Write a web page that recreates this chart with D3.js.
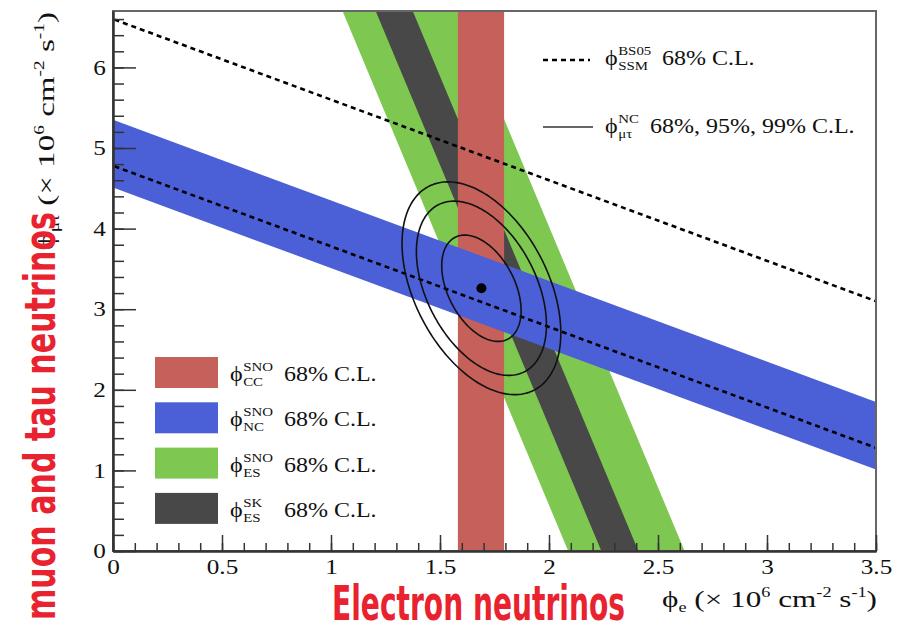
<!DOCTYPE html>
<html>
<head>
<meta charset="utf-8">
<script src="https://cdn.jsdelivr.net/npm/d3@7"></script>
<style>
  body { margin: 0; background: #fff; }
  svg { display: block; }
</style>
</head>
<body>
<div id="chart"></div>
<script>
var width = 916, height = 623,
    margin = {top: 11, right: 40, bottom: 72, left: 113};

// bands, all in units of 10^6 cm^-2 s^-1
var ccBand = [1.582, 1.794];        // phi_e range (SNO CC)
var ncBand = [4.51, 5.35];          // phi_e + phi_mutau (SNO NC)
var snoEsBand = [2.088, 2.622];     // phi_e + k phi_mutau (SNO ES)
var skEsBand = [2.240, 2.410];      // phi_e + k phi_mutau (SK ES)
var esWeight = 0.1545;
var ssmLines = [4.78, 6.60];        // BS05 SSM total, 68% C.L.

// best fit and contour parameters
var bestFit = [1.69, 3.26];
var contourSigma = [0.12, 0.435];
var contourRho = -0.42;
var contourChi2 = [2.30, 6.18, 9.21];

var xMajor = [0, 0.5, 1, 1.5, 2, 2.5, 3, 3.5];
var xLabels = ["0", "0.5", "1", "1.5", "2", "2.5", "3", "3.5"];
var yMajor = [0, 1, 2, 3, 4, 5, 6];
var xMinor = d3.range(0, 36).map(function(i) { return i / 10; });
var yMinor = d3.range(0, 34).map(function(i) { return i / 5; });

var legendNames = ["CC", "NC", "ES", "ES"];
var legendExp = ["SNO", "SNO", "SNO", "SK"];
var legendColors = ["#c5605a", "#4b5fd7", "#7ec852", "#484848"];

var serif = "'Liberation Serif', 'Times New Roman', serif";
var stretch = 1.2;

var w = width - margin.left - margin.right,
    h = height - margin.top - margin.bottom;

var x = d3.scaleLinear().domain([0, 3.5]).range([0, w]);
var y = d3.scaleLinear().domain([0, 6.7]).range([h, 0]);

var svg = d3.select("#chart").append("svg")
    .attr("width", width)
    .attr("height", height);

svg.append("defs").append("clipPath").attr("id", "plotclip")
  .append("rect").attr("width", w).attr("height", h);

var g = svg.append("g")
    .attr("transform", "translate(" + margin.left + "," + margin.top + ")");

var plot = g.append("g").attr("clip-path", "url(#plotclip)");

var poly = d3.line().x(function(d) { return x(d[0]); }).y(function(d) { return y(d[1]); });

// ES bands: phi_e = c - k * phi_mutau
function esPoly(b) {
  var y0 = -1, y1 = 8;
  return [[b[0] - esWeight * y0, y0], [b[1] - esWeight * y0, y0],
          [b[1] - esWeight * y1, y1], [b[0] - esWeight * y1, y1]];
}
plot.append("path").attr("d", poly(esPoly(snoEsBand)) + "Z").attr("fill", legendColors[2]);
plot.append("path").attr("d", poly(esPoly(skEsBand)) + "Z").attr("fill", legendColors[3]);

plot.append("rect")
  .attr("x", x(ccBand[0])).attr("width", x(ccBand[1]) - x(ccBand[0]))
  .attr("y", -5).attr("height", h + 10)
  .attr("fill", legendColors[0]);

// NC: phi_mutau = c - phi_e
var x0 = -1, x1 = 5;
plot.append("path")
  .attr("d", poly([[x0, ncBand[0] - x0], [x0, ncBand[1] - x0], [x1, ncBand[1] - x1], [x1, ncBand[0] - x1]]) + "Z")
  .attr("fill", legendColors[1]);

plot.selectAll(".ssm")
  .data(ssmLines)
  .enter().append("line")
  .attr("x1", x(x0)).attr("y1", function(d) { return y(d - x0); })
  .attr("x2", x(x1)).attr("y2", function(d) { return y(d - x1); })
  .attr("stroke", "#000")
  .attr("stroke-width", 2.6)
  .attr("stroke-dasharray", "5,4");

// confidence contours
var ell = d3.line().curve(d3.curveLinearClosed)
    .x(function(d) { return x(d[0]); }).y(function(d) { return y(d[1]); });
var ts = d3.range(0, 2 * Math.PI, Math.PI / 90);
plot.selectAll(".cont")
  .data(contourChi2)
  .enter().append("path")
  .attr("d", function(c) {
    var r = Math.sqrt(c), s = Math.sqrt(1 - contourRho * contourRho);
    return ell(ts.map(function(t) {
      var u = Math.cos(t), v = Math.sin(t);
      return [bestFit[0] + r * contourSigma[0] * u,
              bestFit[1] + r * contourSigma[1] * (contourRho * u + s * v)];
    }));
  })
  .attr("fill", "none")
  .attr("stroke", "#111")
  .attr("stroke-width", 1.6);

plot.append("circle")
  .attr("cx", x(bestFit[0])).attr("cy", y(bestFit[1]))
  .attr("r", 5).attr("fill", "#000");

// frame
g.append("rect").attr("width", w).attr("height", h)
  .attr("fill", "none").attr("stroke", "#666").attr("stroke-width", 2);

// axes (ticks inward, ROOT style)
function styleAxis(sel) {
  sel.select(".domain").attr("stroke", "#333").attr("stroke-width", 2);
  sel.selectAll(".tick line").attr("stroke", "#333").attr("stroke-width", 1.5);
  sel.selectAll("text").attr("font-family", serif).attr("font-size", 21).attr("fill", "#111");
}

g.append("g").attr("transform", "translate(0," + h + ")")
  .call(d3.axisBottom(x).tickValues(xMinor).tickSizeInner(-8).tickSizeOuter(0).tickFormat(""))
  .call(styleAxis);
var xa = g.append("g").attr("transform", "translate(0," + h + ")")
  .call(d3.axisBottom(x).tickValues(xMajor).tickSizeInner(-16).tickSizeOuter(0)
        .tickPadding(8).tickFormat(function(d, i) { return xLabels[i]; }))
  .call(styleAxis);
xa.selectAll("text").attr("transform", "scale(" + stretch + ",1)");

g.append("g")
  .call(d3.axisLeft(y).tickValues(yMinor).tickSizeInner(-11).tickSizeOuter(0).tickFormat(""))
  .call(styleAxis);
var ya = g.append("g")
  .call(d3.axisLeft(y).tickValues(yMajor).tickSizeInner(-23).tickSizeOuter(0)
        .tickPadding(6).tickFormat(d3.format("d")))
  .call(styleAxis);
ya.selectAll("text").attr("transform", "scale(" + stretch + ",1)");

// text helper: phi with stacked super/subscript, then rest
function phiLabel(px, py, sup, sub, rest, restX, size) {
  var lg = svg.append("g").attr("transform", "translate(" + px + "," + py + ") scale(" + stretch + ",1)")
    .attr("font-family", serif).attr("fill", "#111");
  lg.append("text").attr("font-size", size).text("\u03d5");
  var sx = 11;
  lg.append("text").attr("x", sx).attr("y", -size * 0.5).attr("font-size", size * 0.62).text(sup);
  lg.append("text").attr("x", sx).attr("y", size * 0.25).attr("font-size", size * 0.62).text(sub);
  svg.append("text")
    .attr("transform", "translate(" + restX + "," + py + ") scale(" + stretch + ",1)")
    .attr("font-family", serif).attr("font-size", size).attr("fill", "#111")
    .text(rest);
}

// bottom-left legend
legendNames.forEach(function(n, i) {
  var top = 357 + i * 45.3;
  svg.append("rect").attr("x", 155).attr("y", top).attr("width", 63).attr("height", 31)
    .attr("fill", legendColors[i]);
  phiLabel(230, top + 24, legendExp[i], n, "68% C.L.", 284, 20);
});

// top-right legend
svg.append("line").attr("x1", 543).attr("x2", 590).attr("y1", 60).attr("y2", 60)
  .attr("stroke", "#000").attr("stroke-width", 2.6).attr("stroke-dasharray", "5,4");
phiLabel(605, 65, "BS05", "SSM", "68% C.L.", 662, 20);
svg.append("line").attr("x1", 543).attr("x2", 593).attr("y1", 127).attr("y2", 127)
  .attr("stroke", "#333").attr("stroke-width", 1.5);
phiLabel(605, 133, "NC", "\u03bc\u03c4", "68%, 95%, 99% C.L.", 650, 20);

// axis titles
function unitTitle(t, sub) {
  t.append("tspan").text("\u03d5");
  t.append("tspan").attr("font-size", 14).attr("dy", 5).text(sub);
  t.append("tspan").attr("dy", -5).text(" (\u00d7 10");
  t.append("tspan").attr("font-size", 14).attr("dy", -10).text("6");
  t.append("tspan").attr("dy", 10).text(" cm");
  t.append("tspan").attr("font-size", 14).attr("dy", -10).text("-2");
  t.append("tspan").attr("dy", 10).text(" s");
  t.append("tspan").attr("font-size", 14).attr("dy", -10).text("-1");
  t.append("tspan").attr("dy", 10).text(")");
}
var xt = svg.append("text")
  .attr("transform", "translate(877,607) scale(1.3,1)")
  .attr("text-anchor", "end")
  .attr("font-family", serif).attr("font-size", 24).attr("fill", "#111");
unitTitle(xt, "e");

var yt = svg.append("text")
  .attr("transform", "translate(54,12) rotate(-90) scale(1.38,1)")
  .attr("text-anchor", "end")
  .attr("font-family", serif).attr("font-size", 24).attr("fill", "#111");
unitTitle(yt, "\u03bc\u03c4");

// red annotations
var cond = "'Liberation Sans Narrow', 'DejaVu Sans Condensed', sans-serif";
svg.append("text")
  .attr("x", 332).attr("y", 620)
  .attr("font-family", cond).attr("font-weight", "bold").attr("font-size", 48)
  .attr("fill", "#e8232f")
  .attr("textLength", 293).attr("lengthAdjust", "spacingAndGlyphs")
  .text("Electron neutrinos");

svg.append("text")
  .attr("transform", "translate(55,620) rotate(-90)")
  .attr("font-family", cond).attr("font-weight", "bold").attr("font-size", 42)
  .attr("fill", "#e8232f")
  .attr("textLength", 408).attr("lengthAdjust", "spacingAndGlyphs")
  .text("muon and tau neutrinos");
</script>
</body>
</html>
